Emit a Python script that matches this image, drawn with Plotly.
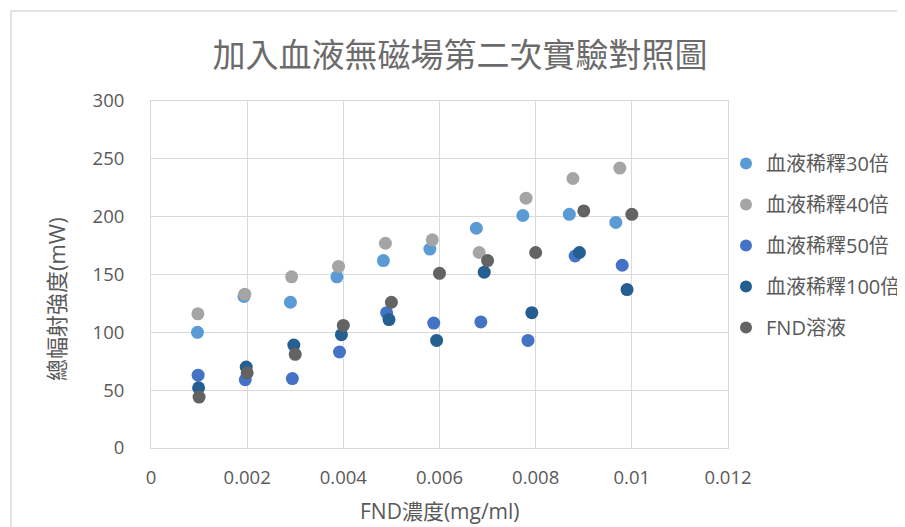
import plotly.graph_objects as go

conc = [0.001, 0.002, 0.003, 0.004, 0.005, 0.006, 0.007, 0.008, 0.009, 0.010]
series_names = ["血液稀釋30倍", "血液稀釋40倍", "血液稀釋50倍", "血液稀釋100倍", "FND溶液"]
dilution_factor = [29/30, 39/40, 49/50, 99/100, 1.0]
vals_30 = [100, 131, 126, 148, 162, 172, 190, 201, 202, 195]
vals_40 = [116, 133, 148, 157, 177, 180, 169, 216, 233, 242]
vals_50 = [63, 59, 60, 83, 117, 108, 109, 93, 166, 158]
vals_100 = [52, 70, 89, 98, 111, 93, 152, 117, 169, 137]
vals_fnd = [44, 65, 81, 106, 126, 151, 162, 169, 205, 202]
colors = ["#5B9BD5", "#A5A5A5", "#4472C4", "#255E91", "#636363"]
x_ticks = [0, 0.002, 0.004, 0.006, 0.008, 0.01, 0.012]
x_tick_text = ["0", "0.002", "0.004", "0.006", "0.008", "0.01", "0.012"]
y_ticks = [0, 50, 100, 150, 200, 250, 300]

all_vals = [vals_30, vals_40, vals_50, vals_100, vals_fnd]

fig = go.Figure()
for i, (name, f, vals, c) in enumerate(zip(series_names, dilution_factor, all_vals, colors)):
    fig.add_trace(go.Scatter(
        x=[v * f for v in conc], y=vals, mode="markers", name=name,
        legendgroup=f"g{i}",
        marker=dict(color=c, size=13, line=dict(width=0)),
    ))

font_cjk = "Noto Sans CJK TC, Open Sans, sans-serif"
font_lat = "Open Sans, Noto Sans CJK TC, sans-serif"
grey = "#595959"

# plot area in layout px: left 143, top 93, width 577, height 347
L, T, PW, PH = 143, 93, 577, 347
W, H = 897, 519

def px(x):
    return (x - L) / PW

def py(y):
    return (T + PH - y) / PH

fig.update_layout(
    width=W, height=H,
    margin=dict(l=L, r=W - L - PW, t=T, b=H - T - PH, autoexpand=False),
    paper_bgcolor="white", plot_bgcolor="white",
    title=dict(text="加入血液無磁場第二次實驗對照圖", x=452 / W, xanchor="center",
               y=1 - 47 / H, yanchor="middle",
               font=dict(family=font_cjk, size=33, color="#6b6b6b")),
    font=dict(family=font_lat, color=grey),
    showlegend=True,
    legend=dict(x=px(718), xanchor="left", y=py(136), yanchor="top",
                bgcolor="rgba(0,0,0,0)",
                font=dict(family=font_lat, size=20, color=grey),
                tracegroupgap=12, itemsizing="constant"),
    xaxis=dict(range=[0, 0.012], tickvals=x_ticks, ticktext=x_tick_text,
               showgrid=True, gridcolor="#D9D9D9", gridwidth=1,
               zeroline=False, showline=True, linecolor="#D9D9D9", mirror=True,
               ticks="", ticklabelstandoff=13,
               tickfont=dict(size=18.5, color=grey)),
    yaxis=dict(range=[0, 300], tickvals=y_ticks,
               showgrid=True, gridcolor="#D9D9D9", gridwidth=1,
               zeroline=False, showline=True, linecolor="#D9D9D9", mirror=True,
               ticks="", ticklabelstandoff=22,
               tickfont=dict(size=18.5, color=grey)),
    annotations=[
        dict(text="FND濃度(mg/ml)", xref="paper", yref="paper", x=px(432), y=py(503),
             xanchor="center", yanchor="middle", showarrow=False,
             font=dict(family=font_lat, size=21, color=grey)),
        dict(text="總幅射強度(mW)", xref="paper", yref="paper", x=px(48), y=py(291),
             xanchor="center", yanchor="middle", showarrow=False, textangle=-90,
             font=dict(family=font_lat, size=22, color=grey)),
    ],
    shapes=[dict(type="rect", xref="paper", yref="paper",
                 x0=px(3), x1=px(895), y0=py(540), y1=py(3),
                 line=dict(color="#D9D9D9", width=1.5), layer="below")],
)

fig.write_html("out.html")
